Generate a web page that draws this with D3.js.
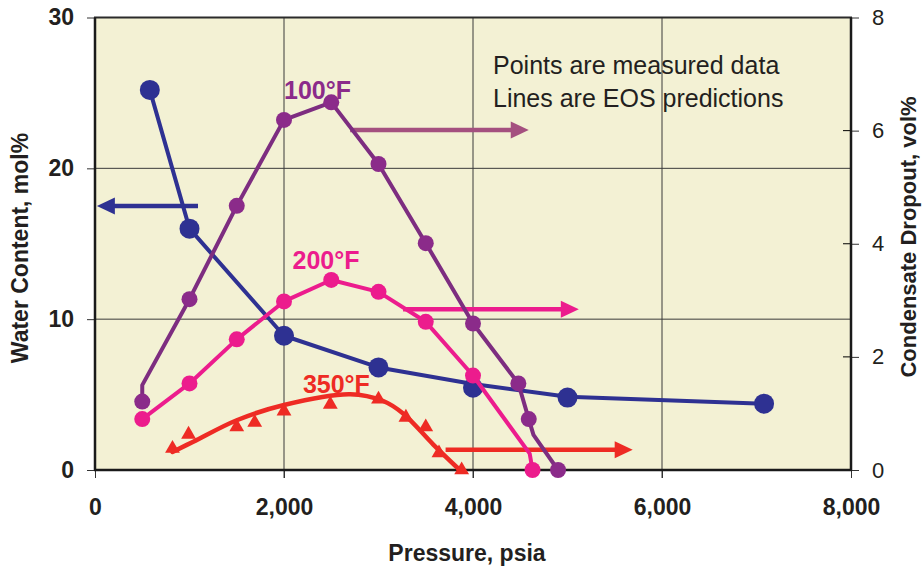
<!DOCTYPE html>
<html>
<head>
<meta charset="utf-8">
<script src="https://cdn.jsdelivr.net/npm/d3@7"></script>
<style>
  html, body { margin: 0; padding: 0; background: #ffffff; }
  svg { display: block; font-family: "Liberation Sans", Arial, Helvetica, sans-serif; }
</style>
</head>
<body>
<svg id="chart" width="923" height="569"></svg>
<script>
// ---- Data ----------------------------------------------------------
const xTicks = [0, 2000, 4000, 6000, 8000];
const leftTicks = [0, 10, 20, 30];
const rightTicks = [0, 2, 4, 6, 8];

// Water content (mol%) vs pressure, left axis
const waterPressure = [580, 1000, 2000, 3000, 4000, 5000, 7080];
const waterContent  = [25.2, 16.0, 8.9, 6.8, 5.45, 4.8, 4.4];
const waterLinePressure = [580, 1000, 2000, 3000, 4000, 5000, 7080];
const waterLineValue    = [25.2, 16.0, 8.9, 6.8, 5.7, 4.85, 4.4];

// Condensate dropout (vol%) at 100°F, right axis
const p100 = [500, 1000, 1500, 2000, 2500, 3000, 3500, 4000, 4480, 4590, 4900];
const v100 = [1.21, 3.02, 4.67, 6.19, 6.5, 5.41, 4.01, 2.59, 1.53, 0.9, 0.0];
const p100Line = [500, 500, 1000, 1500, 2000, 2500, 3000, 3500, 4000, 4480, 4590, 4640, 4900];
const v100Line = [1.21, 1.5, 3.02, 4.67, 6.19, 6.5, 5.41, 4.01, 2.59, 1.53, 0.9, 0.62, 0.0];

// Condensate dropout (vol%) at 200°F
const p200 = [500, 1000, 1500, 2000, 2500, 3000, 3500, 4000, 4630];
const v200 = [0.9, 1.53, 2.31, 2.98, 3.36, 3.15, 2.62, 1.67, 0.0];
const p200Line = [500, 1000, 1500, 2000, 2500, 3000, 3500, 4000, 4600, 4630];
const v200Line = [0.9, 1.53, 2.31, 2.98, 3.36, 3.15, 2.62, 1.67, 0.29, 0.0];

// Condensate dropout (vol%) at 350°F
const p350 = [820, 990, 1500, 1690, 2000, 2490, 3000, 3290, 3500, 3640, 3880];
const v350 = [0.38, 0.63, 0.76, 0.84, 1.04, 1.16, 1.25, 0.93, 0.76, 0.3, 0.0];
const p350Line = [820, 1040, 1500, 2000, 2700, 3050, 3260, 3580, 3860];
const v350Line = [0.32, 0.5, 0.88, 1.15, 1.34, 1.22, 1.0, 0.45, 0.0];

// Arrows pointing each curve to its axis: [fromPressure, toPressure, value]
const blueArrow   = [1090, 20, 17.5];
const arrow100    = [2700, 4590, 6.01];
const arrow200    = [3260, 5120, 2.84];
const arrow350    = [3710, 5690, 0.36];

const noteLines = ["Points are measured data", "Lines are EOS predictions"];

// ---- Layout --------------------------------------------------------
const C = {
  bg: "#f3f1d4",
  blue: "#2e3192",
  purple: "#8b2b8a",
  purpleLine: "#7d2d80",
  purpleArrow: "#a4507f",
  pink: "#ec1c8d",
  red: "#ee2b24",
  grid: "#3a3a3a",
  text: "#231f20"
};

const svg = d3.select("#chart");
const L = 95, R = 851, T = 17.5, B = 470;

const x  = d3.scaleLinear().domain([0, 8000]).range([L, R]);
const yL = d3.scaleLinear().domain([0, 30]).range([B, T]);
const yR = d3.scaleLinear().domain([0, 8]).range([B, T]);

// plot background
svg.append("rect").attr("x", L).attr("y", T).attr("width", R - L).attr("height", B - T)
  .attr("fill", C.bg);

// gridlines
const g = svg.append("g");
g.selectAll("line.v").data(xTicks.filter(d => d > 0 && d < 8000)).join("line")
  .attr("x1", d => x(d)).attr("x2", d => x(d)).attr("y1", T).attr("y2", B + 8)
  .attr("stroke", C.grid).attr("stroke-width", 1);
g.selectAll("line.h").data(leftTicks.filter(d => d > 0 && d < 30)).join("line")
  .attr("x1", L).attr("x2", R).attr("y1", d => yL(d)).attr("y2", d => yL(d))
  .attr("stroke", C.grid).attr("stroke-width", 1);

// axes
const axisFontBold = sel => sel.selectAll("text")
  .attr("font-size", 23).attr("font-weight", "bold").attr("fill", C.text)
  .attr("font-family", "'Liberation Sans', Arial, sans-serif");

const xAxis = svg.append("g").attr("transform", `translate(0,${B})`)
  .call(d3.axisBottom(x).tickValues(xTicks).tickFormat(d3.format(",")).tickSize(8).tickPadding(21));
xAxis.call(axisFontBold);

const lAxis = svg.append("g").attr("transform", `translate(${L},0)`)
  .call(d3.axisLeft(yL).tickValues(leftTicks).tickSize(8).tickPadding(13));
lAxis.call(axisFontBold);

const rAxis = svg.append("g").attr("transform", `translate(${R},0)`)
  .call(d3.axisRight(yR).tickValues(rightTicks).tickSize(8).tickPadding(13));
rAxis.selectAll("text").attr("font-size", 22).attr("fill", C.text)
  .attr("font-family", "'Liberation Sans', Arial, sans-serif");
// inner half of the right-axis ticks
svg.append("g").selectAll("line").data(rightTicks).join("line")
  .attr("x1", R - 8).attr("x2", R).attr("y1", d => yR(d)).attr("y2", d => yR(d))
  .attr("stroke", "#000");

[xAxis, lAxis, rAxis].forEach(a => {
  a.select(".domain").remove();
  a.selectAll(".tick line").attr("stroke", "#333").attr("stroke-width", 1);
});

// plot frame
svg.append("line").attr("x1", L - 1).attr("x2", R + 1).attr("y1", T).attr("y2", T)
  .attr("stroke", "#2b2b2b").attr("stroke-width", 2);
svg.append("line").attr("x1", L - 1).attr("x2", R + 1).attr("y1", B).attr("y2", B)
  .attr("stroke", "#1a1a1a").attr("stroke-width", 2.5);
svg.append("line").attr("x1", L).attr("x2", L).attr("y1", T).attr("y2", B)
  .attr("stroke", "#1a1a1a").attr("stroke-width", 2.5);
svg.append("line").attr("x1", R).attr("x2", R).attr("y1", T).attr("y2", B)
  .attr("stroke", "#1a1a1a").attr("stroke-width", 2.5);

// axis titles
svg.append("text").attr("x", 467).attr("y", 561).attr("text-anchor", "middle")
  .attr("font-size", 23).attr("font-weight", "bold").attr("fill", C.text)
  .text("Pressure, psia");
svg.append("text").attr("transform", "translate(28,248) rotate(-90)").attr("text-anchor", "middle")
  .attr("font-size", 23).attr("font-weight", "bold").attr("fill", C.text)
  .text("Water Content, mol%");
svg.append("text").attr("transform", "translate(916,237) rotate(-90)").attr("text-anchor", "middle")
  .attr("font-size", 22).attr("font-weight", "bold").attr("fill", C.text)
  .text("Condensate Dropout, vol%");

// ---- Series ----------------------------------------------------------
const zip = (a, b) => a.map((d, i) => [d, b[i]]);
const plot = svg.append("g");

function arrow(spec, color, yScale) {
  const [from, to, v] = spec;
  const dir = Math.sign(to - from);
  const tipX = x(to), yy = yScale(v);
  const head = 18, half = 8.5;
  plot.append("line").attr("x1", x(from)).attr("x2", tipX - dir * head * 0.6)
    .attr("y1", yy).attr("y2", yy).attr("stroke", color).attr("stroke-width", 4.5);
  plot.append("path")
    .attr("d", `M${tipX},${yy} L${tipX - dir * head},${yy - half} L${tipX - dir * head},${yy + half} Z`)
    .attr("fill", color);
}

function lineSeries(px, py, yScale, color, width, curve) {
  plot.append("path").datum(zip(px, py))
    .attr("d", d3.line().x(d => x(d[0])).y(d => yScale(d[1])).curve(curve || d3.curveLinear))
    .attr("fill", "none").attr("stroke", color).attr("stroke-width", width)
    .attr("stroke-linejoin", "round").attr("stroke-linecap", "round");
}
function dots(px, py, yScale, color, r) {
  plot.append("g").selectAll("circle").data(zip(px, py)).join("circle")
    .attr("cx", d => x(d[0])).attr("cy", d => yScale(d[1])).attr("r", r).attr("fill", color);
}

// water content
arrow(blueArrow, C.blue, yL);
lineSeries(waterLinePressure, waterLineValue, yL, C.blue, 4, d3.curveLinear);
dots(waterPressure, waterContent, yL, C.blue, 10);

// 350°F
arrow(arrow350, C.red, yR);
lineSeries(p350Line, v350Line, yR, C.red, 4.5, d3.curveCatmullRom.alpha(0.5));
plot.append("g").selectAll("path").data(zip(p350, v350)).join("path")
  .attr("d", d3.symbol().type(d3.symbolTriangle).size(95))
  .attr("transform", d => `translate(${x(d[0])},${yR(d[1])})`)
  .attr("fill", C.red);

// 200°F
arrow(arrow200, C.pink, yR);
lineSeries(p200Line, v200Line, yR, C.pink, 4, d3.curveLinear);
dots(p200, v200, yR, C.pink, 8);

// 100°F
arrow(arrow100, C.purpleArrow, yR);
lineSeries(p100Line, v100Line, yR, C.purpleLine, 4, d3.curveLinear);
dots(p100, v100, yR, C.purple, 8);

// series labels
const lab = (t, px, v, color) => svg.append("text").attr("x", x(px)).attr("y", yR(v))
  .attr("font-size", 25).attr("font-weight", "bold").attr("fill", color).text(t);
lab("100°F", 2000, 6.56, C.purple);
lab("200°F", 2090, 3.56, C.pink);
lab("350°F", 2200, 1.36, C.red);

// note
svg.append("g").selectAll("text").data(noteLines).join("text")
  .attr("x", 493).attr("y", (d, i) => 74 + i * 33)
  .attr("font-size", 25).attr("fill", C.text).text(d => d);
</script>
</body>
</html>
